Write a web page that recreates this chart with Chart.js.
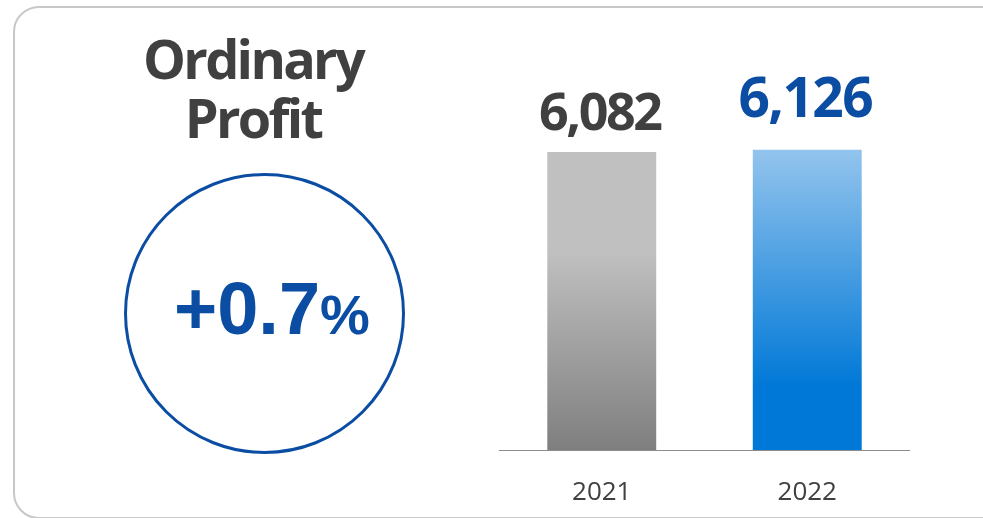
<!DOCTYPE html>
<html>
<head>
<meta charset="utf-8">
<title>Ordinary Profit</title>
<script src="https://cdn.jsdelivr.net/npm/chart.js@4.4.1/dist/chart.umd.min.js"></script>
<style>
  html, body { margin: 0; padding: 0; width: 983px; height: 518px; overflow: hidden; background: #ffffff; }
  .card {
    position: absolute; left: 13px; top: 6px; width: 1000px; height: 513px;
    border: 2.5px solid #c8c8c8; border-radius: 26px; box-sizing: border-box;
  }
  .title {
    position: absolute; left: 103px; top: 29px; width: 300px; text-align: center;
    font-family: "Open Sans", sans-serif; font-weight: 700; font-size: 54px;
    line-height: 59px; letter-spacing: -2.7px; color: #404040;
  }
  .ring {
    position: absolute; left: 124px; top: 173px; width: 281px; height: 281px;
    border: 3.2px solid #0a4da2; border-radius: 50%; box-sizing: border-box;
  }
  .change {
    position: absolute; left: 174px; top: 272px; white-space: nowrap;
    font-family: "Liberation Sans", Arial, sans-serif; font-weight: 700;
    font-size: 74px; line-height: 74px; color: #0a4da2;
  }
  .change .pct { font-size: 56px; }
  .plot { position: absolute; left: 499px; top: 58px; width: 411px; height: 460px; }
</style>
</head>
<body>
<div class="card"></div>
<div class="title">Ordinary<br>Profit</div>
<div class="ring"></div>
<div class="change">+0.7<span class="pct">%</span></div>
<div class="plot"><canvas id="chart"></canvas></div>

<script>
// Fiscal years and ordinary profit values
const years = ['2021', '2022'];
const profit = [6082, 6126];

// Per-bar look: gradient stops and value-label styling
const barGradients = [
  [[0, '#c0c0c0'], [0.335, '#c0c0c0'], [1, '#7f7f7f']],
  [[0, '#93c4ed'], [0.79, '#0078d7'], [1, '#0078d7']]
];
const labelStyles = [
  { size: 52, color: '#404040', gap: 22, spacing: '-2.5px' },
  { size: 55, color: '#0a4da2', gap: 33, spacing: '-1.6px' }
];

function barFill(context) {
  const chart = context.chart;
  if (!chart.chartArea || !context.parsed) return '#c0c0c0';
  const yScale = chart.scales.y;
  const top = yScale.getPixelForValue(context.parsed.y);
  const bottom = yScale.getPixelForValue(0);
  const g = chart.ctx.createLinearGradient(0, top, 0, bottom);
  barGradients[context.dataIndex].forEach(([stop, color]) => g.addColorStop(stop, color));
  return g;
}

// Writes each bar's value above it
const valueLabels = {
  id: 'valueLabels',
  afterDatasetsDraw(chart) {
    const ctx = chart.ctx;
    const meta = chart.getDatasetMeta(0);
    meta.data.forEach((bar, i) => {
      const s = labelStyles[i];
      ctx.save();
      ctx.font = `700 ${s.size}px "Open Sans", sans-serif`;
      ctx.fillStyle = s.color;
      ctx.textAlign = 'center';
      ctx.textBaseline = 'alphabetic';
      if ('letterSpacing' in ctx) ctx.letterSpacing = s.spacing;
      ctx.fillText(profit[i].toLocaleString('en-US'), bar.x - 2, bar.y - s.gap);
      ctx.restore();
    });
  }
};

new Chart(document.getElementById('chart'), {
  type: 'bar',
  data: {
    labels: years,
    datasets: [{
      data: profit,
      backgroundColor: barFill,
      borderWidth: 0,
      barPercentage: 0.53,
      categoryPercentage: 1
    }]
  },
  options: {
    responsive: true,
    maintainAspectRatio: false,
    animation: false,
    events: [],
    layout: { padding: 0 },
    plugins: { legend: { display: false }, tooltip: { enabled: false } },
    scales: {
      x: {
        grid: { display: false, drawTicks: false },
        border: { display: true, color: '#8c8c8c', width: 1 },
        ticks: { color: '#404040', padding: 27, font: { family: '"Open Sans", sans-serif', size: 26 } },
        afterFit(scale) { scale.height = 68; }
      },
      y: { display: false, min: 0, max: 8000 }
    }
  },
  plugins: [valueLabels]
});
</script>
</body>
</html>
